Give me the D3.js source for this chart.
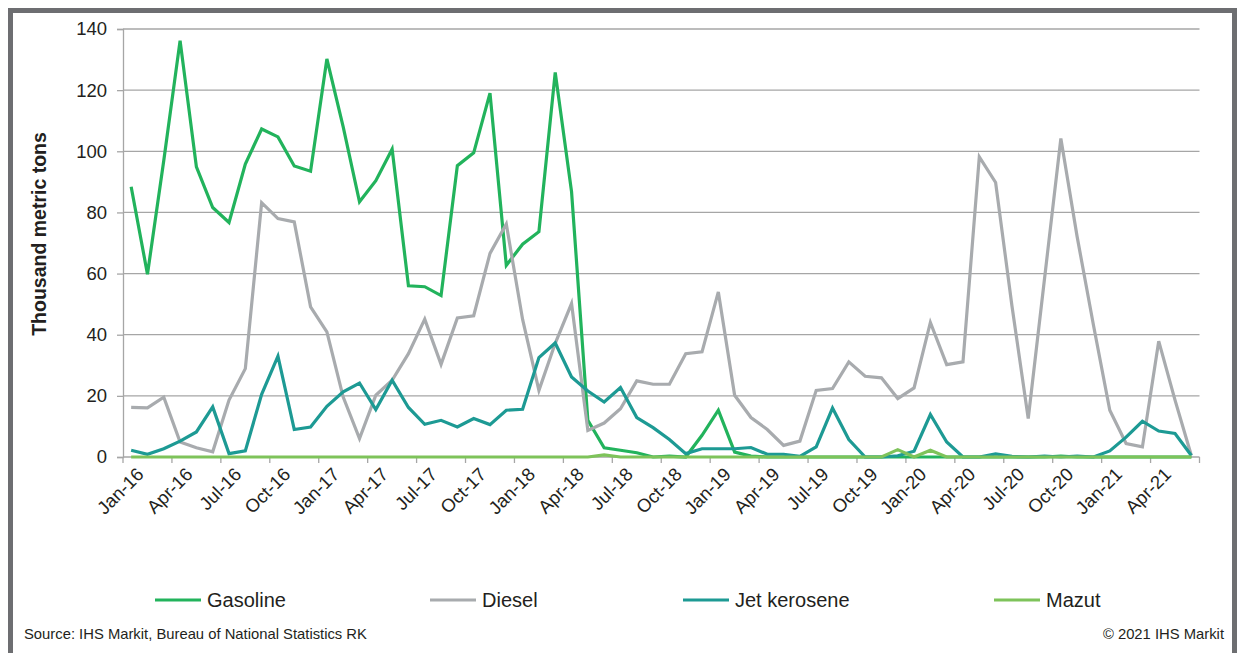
<!DOCTYPE html>
<html>
<head>
<meta charset="utf-8">
<script src="https://cdn.jsdelivr.net/npm/d3@7"></script>
<style>
  body { margin: 0; background: #fff; }
  text { font-family: "Liberation Sans", Arial, sans-serif; }
</style>
</head>
<body>
<div id="chart"></div>
<script>
const width = 1237;
const height = 653;
const margin = { top: 29, right: 37.5, bottom: 196, left: 123 };

// months Jan-16 .. Jun-21
const monthNames = ["Jan", "Feb", "Mar", "Apr", "May", "Jun", "Jul", "Aug", "Sep", "Oct", "Nov", "Dec"];
const months = [];
for (let y = 16; y <= 21; y++) {
    for (let m = 0; m < 12; m++) {
        if (y === 21 && m > 5) break;
        months.push(`${monthNames[m]}-${y}`);
    }
}

const yTicks = [0, 20, 40, 60, 80, 100, 120, 140];

const gasoline = [88.4, 59.8, 97, 136.2, 94.9, 81.6, 76.7, 95.8, 107.3, 104.7, 95.2, 93.5,
    130.2, 108, 83.5, 90.4, 100.7, 56, 55.7, 52.8, 95.3, 99.5, 119, 62.7,
    69.6, 73.7, 125.8, 86.8, 12, 3, 2.2, 1.4, 0, 0.3, 0, 7.1,
    15.3, 1.6, 0.3, 0, 0, 0, 0, 0, 0, 0, 0, 0,
    0, 0, 0, 0, 0, 0, 0, 0, 0, 0.3, 0, 0,
    0, 0, 0, 0, 0, 0];
const diesel = [16.2, 16.1, 19.6, 4.9, 3, 1.7, 18.6, 28.9, 83.2, 78, 76.9, 49.1,
    40.9, 19.6, 6, 20.2, 25.1, 33.8, 45.1, 30.3, 45.5, 46.2, 66.6, 76.2,
    45, 21.8, 37.2, 50.2, 8.7, 11.1, 15.8, 24.9, 23.8, 23.8, 33.8, 34.4,
    54, 20.2, 12.9, 9, 3.8, 5.2, 21.8, 22.4, 31.1, 26.4, 25.9, 19.1,
    22.6, 44, 30.2, 31.1, 98.2, 89.8, 49.5, 12.6, 58.4, 104.2, 72, 43.1,
    15.3, 4.4, 3.3, 37.9, 18.6, 0.5];
const jetKerosene = [2.2, 0.9, 2.7, 5.2, 8.2, 16.4, 1.1, 2, 20.5, 33, 9, 9.8,
    16.6, 21.3, 24.2, 15.5, 25.1, 16.2, 10.7, 12, 9.8, 12.6, 10.6, 15.3,
    15.6, 32.5, 37.3, 26.2, 21.6, 18, 22.7, 12.9, 9.6, 5.7, 1.1, 2.7,
    2.7, 2.7, 3.1, 0.9, 0.9, 0.2, 3.3, 16, 5.7, 0, 0, 0.4,
    1.9, 13.9, 4.9, 0, 0, 1, 0.2, 0, 0.3, 0, 0.3, 0,
    2, 6.5, 11.7, 8.5, 7.7, 0.5];
const mazut = [0, 0, 0, 0, 0, 0, 0, 0, 0, 0, 0, 0,
    0, 0, 0, 0, 0, 0, 0, 0, 0, 0, 0, 0,
    0, 0, 0, 0, 0, 0.7, 0, 0, 0, 0, 0, 0,
    0, 0, 0, 0, 0, 0, 0, 0, 0, 0, 0, 2.4,
    0, 2.2, 0, 0, 0, 0, 0, 0, 0, 0, 0, 0,
    0, 0, 0, 0, 0, 0];

const seriesNames = ["Gasoline", "Diesel", "Jet kerosene", "Mazut"];
const seriesColors = ["#22b35c", "#a8abae", "#1d9a94", "#7ec35a"];
const series = [gasoline, diesel, jetKerosene, mazut];

const svg = d3.select("#chart")
    .append("svg")
    .attr("width", width)
    .attr("height", height);

// outer frame
svg.append("rect")
    .attr("x", 10.5)
    .attr("y", 10.5)
    .attr("width", 1224)
    .attr("height", 660)
    .attr("fill", "none")
    .attr("stroke", "#6d6e71")
    .attr("stroke-width", 5);

const plotBottom = height - margin.bottom;
const xScale = d3.scaleBand().domain(months).range([margin.left, width - margin.right]);
const yScale = d3.scaleLinear().domain([0, 140]).range([plotBottom, margin.top]);

// gridlines
svg.append("g")
    .selectAll("line")
    .data(yTicks.filter(d => d > 0))
    .enter()
    .append("line")
    .attr("x1", margin.left)
    .attr("x2", width - margin.right)
    .attr("y1", d => yScale(d))
    .attr("y2", d => yScale(d))
    .attr("stroke", "#a6a6a6")
    .attr("stroke-width", 1.3);

// y axis
const yAxisGroup = svg.append("g")
    .attr("transform", `translate(${margin.left},0)`)
    .call(d3.axisLeft(yScale).tickValues(yTicks).tickSize(6).tickPadding(10));
yAxisGroup.select(".domain").attr("stroke", "#a6a6a6").attr("stroke-width", 1.3);
yAxisGroup.selectAll(".tick line").attr("stroke", "#a6a6a6").attr("stroke-width", 1.3);
yAxisGroup.selectAll("text")
    .style("font-size", "18.5px")
    .style("font-family", "Liberation Sans, Arial, sans-serif")
    .attr("fill", "#231f20");

// x axis
const tickMonths = months.filter((d, i) => i % 3 === 0);
const xAxisGroup = svg.append("g")
    .attr("transform", `translate(0,${plotBottom})`);
xAxisGroup.append("line")
    .attr("x1", margin.left)
    .attr("x2", width - margin.right)
    .attr("stroke", "#a6a6a6")
    .attr("stroke-width", 1.3);
const boundaries = tickMonths.map(d => xScale(d)).concat([width - margin.right]);
xAxisGroup.selectAll(".xtick")
    .data(boundaries)
    .enter()
    .append("line")
    .attr("class", "xtick")
    .attr("x1", d => d)
    .attr("x2", d => d)
    .attr("y1", 0)
    .attr("y2", 6)
    .attr("stroke", "#a6a6a6")
    .attr("stroke-width", 1.3);
xAxisGroup.selectAll(".xlabel")
    .data(tickMonths)
    .enter()
    .append("text")
    .attr("class", "xlabel")
    .attr("transform", d => `translate(${xScale(d) + xScale.bandwidth() / 2 + 9},${14}) rotate(-45)`)
    .attr("text-anchor", "end")
    .attr("dy", "0.35em")
    .style("font-size", "18.5px")
    .attr("fill", "#231f20")
    .text(d => d);

// y axis title
svg.append("text")
    .attr("transform", "rotate(-90)")
    .attr("x", -234)
    .attr("y", 46)
    .attr("text-anchor", "middle")
    .style("font-size", "19.5px")
    .style("font-weight", "bold")
    .attr("fill", "#231f20")
    .text("Thousand metric tons");

// lines
const line = d3.line()
    .x((d, i) => xScale(months[i]) + xScale.bandwidth() / 2)
    .y(d => yScale(d));

series.forEach((s, k) => {
    svg.append("path")
        .datum(s)
        .attr("fill", "none")
        .attr("stroke", seriesColors[k])
        .attr("stroke-width", 3.2)
        .attr("stroke-linejoin", "miter")
        .attr("d", line);
});

// legend
const legendX = [155, 430, 683, 994];
const legend = svg.append("g");
seriesNames.forEach((name, k) => {
    legend.append("line")
        .attr("x1", legendX[k])
        .attr("x2", legendX[k] + 46)
        .attr("y1", 600)
        .attr("y2", 600)
        .attr("stroke", seriesColors[k])
        .attr("stroke-width", 3.2);
    legend.append("text")
        .attr("x", legendX[k] + 52)
        .attr("y", 600)
        .attr("dy", "0.35em")
        .style("font-size", "20px")
        .attr("fill", "#231f20")
        .text(name);
});

// footer
svg.append("text")
    .attr("x", 24)
    .attr("y", 639)
    .style("font-size", "14.8px")
    .attr("fill", "#231f20")
    .text("Source: IHS Markit, Bureau of National Statistics RK");
svg.append("text")
    .attr("x", 1224)
    .attr("y", 639)
    .attr("text-anchor", "end")
    .style("font-size", "14.8px")
    .attr("fill", "#231f20")
    .text("© 2021 IHS Markit");
</script>
</body>
</html>
